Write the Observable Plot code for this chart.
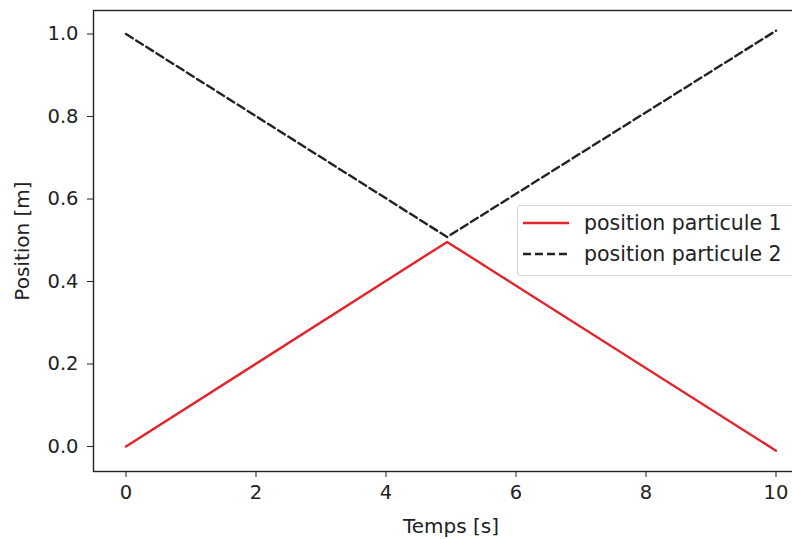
<!DOCTYPE html>
<html>
<head>
<meta charset="utf-8">
<script src="https://cdn.jsdelivr.net/npm/d3@7"></script>
<script src="https://cdn.jsdelivr.net/npm/@observablehq/plot@0.6"></script>
<style>
  html, body { margin: 0; padding: 0; background: #fff; overflow: hidden; width: 792px; height: 539px; }
  #wrap { position: relative; width: 808px; height: 539px; }
  .legend { position: absolute; left: 517px; top: 205px; width: 300px; height: 71px;
    border: 1px solid #d4d4d4; border-radius: 3px; background: rgba(255,255,255,0.85);
    font-family: "DejaVu Sans", sans-serif; font-size: 20.5px; color: #222; box-sizing: border-box; }
  .row { position: absolute; left: 0; height: 24px; display: flex; align-items: center; white-space: nowrap; }
  .row svg { margin-left: 4px; margin-right: 14px; }
</style>
</head>
<body>
<div id="wrap"></div>
<script>
const temps = [0, 4.94, 10];
const particule1 = [0, 0.496, -0.01];
const particule2 = [1.0, 0.508, 1.008];
const xTicks = [0, 2, 4, 6, 8, 10];
const yTicks = [0.0, 0.2, 0.4, 0.6, 0.8, 1.0];
const seriesNames = ["position particule 1", "position particule 2"];
const seriesColors = ["#e3242b", "#222222"];

const d1 = temps.map((t, i) => ({t, p: particule1[i]}));
const d2 = temps.map((t, i) => ({t, p: particule2[i]}));

const chart = Plot.plot({
  width: 808,
  height: 539,
  marginLeft: 93,
  marginRight: 0,
  marginTop: 10,
  marginBottom: 68,
  style: {fontFamily: "DejaVu Sans, sans-serif", fontSize: "19.5px", color: "#222", background: "#fff"},
  x: {domain: [-0.5, 10.5]},
  y: {domain: [-0.0605, 1.057]},
  marks: [
    Plot.frame({stroke: "#222", strokeWidth: 1.4}),
    Plot.axisX({ticks: xTicks, tickFormat: d3.format("d"), tickSize: 6, tickPadding: 8, fontSize: 19.5, label: null}),
    Plot.axisX({ticks: [], label: "Temps [s]", labelAnchor: "center", labelArrow: "none", labelOffset: 61, fontSize: 20}),
    Plot.axisY({ticks: yTicks, tickFormat: d3.format(".1f"), tickSize: 6, tickPadding: 9, fontSize: 19.5, label: null}),
    Plot.axisY({ticks: [], label: "Position [m]", labelAnchor: "center", labelArrow: "none", labelOffset: 79, fontSize: 20}),
    Plot.line(d1, {x: "t", y: "p", stroke: seriesColors[0], strokeWidth: 2.4}),
    Plot.line(d2, {x: "t", y: "p", stroke: seriesColors[1], strokeWidth: 2.4, strokeDasharray: "8,4"})
  ]
});
const wrap = document.getElementById("wrap");
wrap.appendChild(chart);

const legend = document.createElement("div");
legend.className = "legend";
seriesNames.forEach((name, i) => {
  const row = document.createElement("div");
  row.className = "row";
  row.style.top = (5 + i * 31) + "px";
  row.innerHTML = `<svg width="48" height="10"><line x1="1" y1="5" x2="47" y2="5" stroke="${seriesColors[i]}" stroke-width="2.4" ${i === 1 ? 'stroke-dasharray="8,4"' : ''}/></svg><span>${name}</span>`;
  legend.appendChild(row);
});
wrap.appendChild(legend);
</script>
</body>
</html>
